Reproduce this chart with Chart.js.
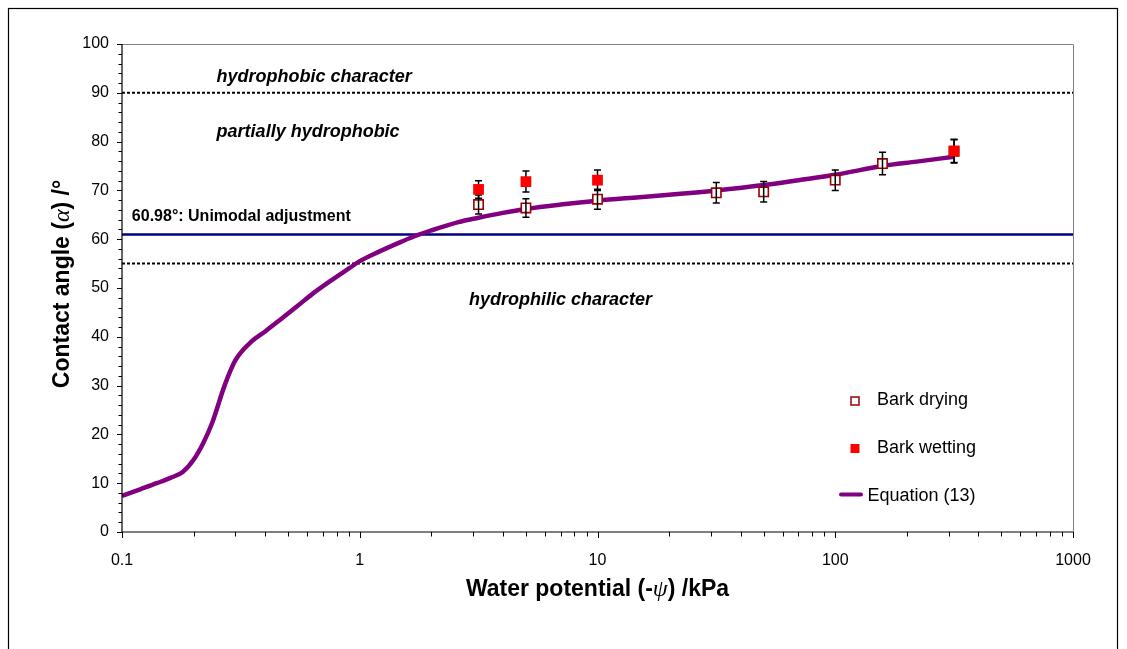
<!DOCTYPE html>
<html><head><meta charset="utf-8">
<script src="https://cdn.jsdelivr.net/npm/chart.js@4.4.1/dist/chart.umd.min.js"></script>
<style>html,body{margin:0;padding:0;background:#fff;overflow:hidden;}#wrap{width:1127px;height:649px;position:relative;}</style>
</head><body><div id="wrap"><canvas id="c" width="1127" height="649"></canvas></div>
<script>
// ---- data ----
const dryingX = [3.16, 5, 10, 31.6, 50, 100, 158, 316];
const dryingValues = [67.1, 66.4, 68.2, 69.5, 69.7, 72.1, 75.5, 78.0];
const dryingErrors = [1.95, 1.9, 2.05, 2.1, 2.1, 2.1, 2.3, 2.4];
const wettingX = [3.16, 5, 10, 316];
const wettingValues = [70.2, 71.8, 72.1, 78.1];
const wettingErrors = [1.8, 2.15, 2.1, 2.4];
const equationX = [0.1, 0.12, 0.14, 0.16, 0.18, 0.2, 0.22, 0.24, 0.27, 0.3, 0.35, 0.4, 0.46, 0.55, 0.64, 0.75, 0.9, 1.0, 1.2, 1.5, 1.7, 2, 2.6, 3.16, 4, 5, 7, 10, 15, 20, 31.6, 50, 70, 100, 158, 220, 316];
const equationY = [7.4, 8.8, 10.0, 11.1, 12.3, 14.8, 18.3, 22.5, 30.0, 35.2, 39.0, 41.1, 43.4, 46.4, 49.0, 51.4, 54.0, 55.5, 57.4, 59.5, 60.6, 61.8, 63.5, 64.4, 65.4, 66.2, 67.1, 67.9, 68.6, 69.1, 70.0, 71.1, 72.1, 73.2, 75.0, 75.9, 76.9];
const unimodalValue = 60.98;
const hydrophobicLimit = 90;
const hydrophilicLimit = 55;
const xRange = [0.1, 1000];
const yRange = [0, 100];
const xMajorTicks = [0.1, 1, 10, 100, 1000];
const xMinorMultipliers = [2, 3, 4, 5, 6, 7, 8, 9];
const yMajorStep = 10;
const yMinorStep = 2;
const seriesNames = ['Bark drying', 'Bark wetting', 'Equation (13)'];
const annotations = [
  {text: 'hydrophobic character', x: 0.25, y: 92.2, style: 'italic bold 18px'},
  {text: 'partially hydrophobic', x: 0.25, y: 80.9, style: 'italic bold 18px'},
  {text: '60.98°: Unimodal adjustment', x: 0.11, y: 63.8, style: 'bold 16px'},
  {text: 'hydrophilic character', x: 2.88, y: 46.6, style: 'italic bold 18px'}
];

const FONT = "'Liberation Sans', Arial, sans-serif";
const pts = (xs, ys) => xs.map((x, i) => ({x: x, y: ys[i]}));
const xTickValues = [];
xMajorTicks.forEach((m, i) => {
  xTickValues.push(m);
  if (i < xMajorTicks.length - 1) xMinorMultipliers.forEach(k => xTickValues.push(+(m * k).toPrecision(6)));
});
const isPow10 = v => Math.abs(Math.log10(v) - Math.round(Math.log10(v))) < 1e-9;

function drawMixed(ctx, parts, cx, by) {
  let total = 0;
  parts.forEach(p => { ctx.font = p.f; p.w = ctx.measureText(p.t).width; total += p.w; });
  let x = cx - total / 2;
  ctx.textAlign = 'left'; ctx.textBaseline = 'alphabetic';
  parts.forEach(p => { ctx.font = p.f; ctx.fillText(p.t, x, by); x += p.w; });
}

function errorBars(ctx, xs, ys, errs, sx, sy) {
  ctx.save();
  ctx.strokeStyle = '#000'; ctx.lineWidth = 1.5;
  xs.forEach((x, i) => {
    const px = sx.getPixelForValue(x);
    const top = sy.getPixelForValue(ys[i] + errs[i]);
    const bot = sy.getPixelForValue(ys[i] - errs[i]);
    ctx.beginPath();
    ctx.moveTo(px, top); ctx.lineTo(px, bot);
    ctx.moveTo(px - 3.5, top); ctx.lineTo(px + 3.5, top);
    ctx.moveTo(px - 3.5, bot); ctx.lineTo(px + 3.5, bot);
    ctx.stroke();
  });
  ctx.restore();
}

const decor = {
  id: 'decor',
  beforeDraw(chart) {
    const ctx = chart.ctx;
    ctx.save(); ctx.fillStyle = '#fff'; ctx.fillRect(0, 0, chart.width, chart.height); ctx.restore();
  },
  afterDatasetDraw(chart, args) {
    if (args.index !== 0) return;
    const sx = chart.scales.x, sy = chart.scales.y;
    errorBars(chart.ctx, dryingX, dryingValues, dryingErrors, sx, sy);
    errorBars(chart.ctx, wettingX, wettingValues, wettingErrors, sx, sy);
  },
  afterDraw(chart) {
    const ctx = chart.ctx, a = chart.chartArea, sx = chart.scales.x, sy = chart.scales.y;
    ctx.save();
    // outer frame
    ctx.strokeStyle = '#000'; ctx.lineWidth = 1.2;
    ctx.strokeRect(8.5, 8.5, 1109, 800);
    // plot area top/right
    ctx.strokeStyle = '#808080'; ctx.lineWidth = 1;
    ctx.beginPath();
    ctx.moveTo(a.left, Math.round(a.top) + 0.5); ctx.lineTo(Math.round(a.right) + 0.5, Math.round(a.top) + 0.5);
    ctx.lineTo(Math.round(a.right) + 0.5, a.bottom);
    ctx.stroke();
    // axes
    ctx.strokeStyle = '#000'; ctx.lineWidth = 1.2;
    ctx.beginPath();
    ctx.moveTo(a.left, a.top); ctx.lineTo(a.left, a.bottom); ctx.lineTo(a.right, a.bottom);
    ctx.stroke();
    // y ticks
    ctx.lineWidth = 1;
    ctx.beginPath();
    for (let v = yRange[0]; v <= yRange[1] + 1e-9; v += yMinorStep) {
      const py = Math.round(sy.getPixelForValue(v)) + 0.5;
      const len = (v % yMajorStep === 0) ? 5 : 3.5;
      ctx.moveTo(a.left - len, py); ctx.lineTo(a.left, py);
    }
    // x ticks
    xTickValues.forEach(v => {
      const px = Math.round(sx.getPixelForValue(v)) + 0.5;
      const len = isPow10(v) ? 6 : 4.5;
      ctx.moveTo(px, a.bottom); ctx.lineTo(px, a.bottom + len);
    });
    ctx.stroke();
    // annotations
    ctx.fillStyle = '#000'; ctx.textAlign = 'left'; ctx.textBaseline = 'alphabetic';
    annotations.forEach(t => {
      ctx.font = t.style + ' ' + FONT;
      ctx.fillText(t.text, sx.getPixelForValue(t.x), sy.getPixelForValue(t.y));
    });
    // axis titles
    const tb = 'bold 23px ' + FONT, tg = "italic 24px 'Liberation Serif', serif";
    drawMixed(ctx, [{t: 'Water potential (-', f: tb}, {t: 'ψ', f: tg}, {t: ') /kPa', f: tb}], (a.left + a.right) / 2, 596);
    ctx.save();
    ctx.translate(69, (a.top + a.bottom) / 2 - 4);
    ctx.rotate(-Math.PI / 2);
    drawMixed(ctx, [{t: 'Contact angle (', f: tb}, {t: 'α', f: tg}, {t: ') /°', f: tb}], 0, 0);
    ctx.restore();
    // legend
    ctx.font = '18px ' + FONT; ctx.fillStyle = '#000';
    ctx.fillText(seriesNames[0], 877, 405);
    ctx.fillText(seriesNames[1], 877, 452.5);
    ctx.fillText(seriesNames[2], 867.5, 500.5);
    ctx.fillStyle = '#fff'; ctx.strokeStyle = '#990000'; ctx.lineWidth = 1.5;
    ctx.fillRect(851, 397, 8, 8); ctx.strokeRect(851, 397, 8, 8);
    ctx.fillStyle = '#ff0000';
    ctx.fillRect(850.5, 444, 9, 9);
    ctx.strokeStyle = '#800080'; ctx.lineWidth = 4; ctx.lineCap = 'round';
    ctx.beginPath(); ctx.moveTo(841, 494.5); ctx.lineTo(861, 494.5); ctx.stroke();
    ctx.restore();
  }
};

new Chart(document.getElementById('c'), {
  type: 'scatter',
  data: {
    datasets: [
      {label: seriesNames[0], data: pts(dryingX, dryingValues), pointStyle: 'rect', pointRadius: 6.6, pointHoverRadius: 6.6,
       borderColor: '#990000', backgroundColor: '#ffffff', borderWidth: 1.6, showLine: false, order: 2},
      {label: seriesNames[1], data: pts(wettingX, wettingValues), pointStyle: 'rect', pointRadius: 7.6, pointHoverRadius: 7.6,
       borderColor: '#ff0000', backgroundColor: '#ff0000', borderWidth: 0, showLine: false, order: 1},
      {label: seriesNames[2], type: 'line', data: pts(equationX, equationY), borderColor: '#800080', borderWidth: 4.5,
       pointRadius: 0, cubicInterpolationMode: 'monotone', fill: false, order: 3},
      {label: 'unimodal', type: 'line', data: pts(xRange, [unimodalValue, unimodalValue]), borderColor: '#000080', borderWidth: 2.5,
       pointRadius: 0, fill: false, order: 4},
      {label: 'hydrophobic', type: 'line', data: pts(xRange, [hydrophobicLimit, hydrophobicLimit]), borderColor: '#000', borderWidth: 2,
       borderDash: [3, 2], pointRadius: 0, fill: false, order: 5},
      {label: 'hydrophilic', type: 'line', data: pts(xRange, [hydrophilicLimit, hydrophilicLimit]), borderColor: '#000', borderWidth: 2,
       borderDash: [3, 2], pointRadius: 0, fill: false, order: 5}
    ]
  },
  options: {
    responsive: false, animation: false, devicePixelRatio: 1,
    layout: {padding: {left: 0, top: 44, right: 54, bottom: 77}},
    plugins: {legend: {display: false}, tooltip: {enabled: false}},
    scales: {
      x: {type: 'logarithmic', min: xRange[0], max: xRange[1],
          afterBuildTicks: s => { s.ticks = xTickValues.map(v => ({value: v})); },
          afterFit: s => { s.height = 40; },
          grid: {display: false}, border: {display: false},
          ticks: {autoSkip: false, maxRotation: 0, padding: 11, color: '#000', font: {family: FONT, size: 16},
                  callback: v => isPow10(v) ? String(+v.toPrecision(6)) : ''}},
      y: {min: yRange[0], max: yRange[1],
          afterFit: s => { s.width = 122; },
          grid: {display: false}, border: {display: false},
          ticks: {stepSize: yMajorStep, padding: 5, color: '#000', font: {family: FONT, size: 16}}}
    }
  },
  plugins: [decor]
});
</script></body></html>
